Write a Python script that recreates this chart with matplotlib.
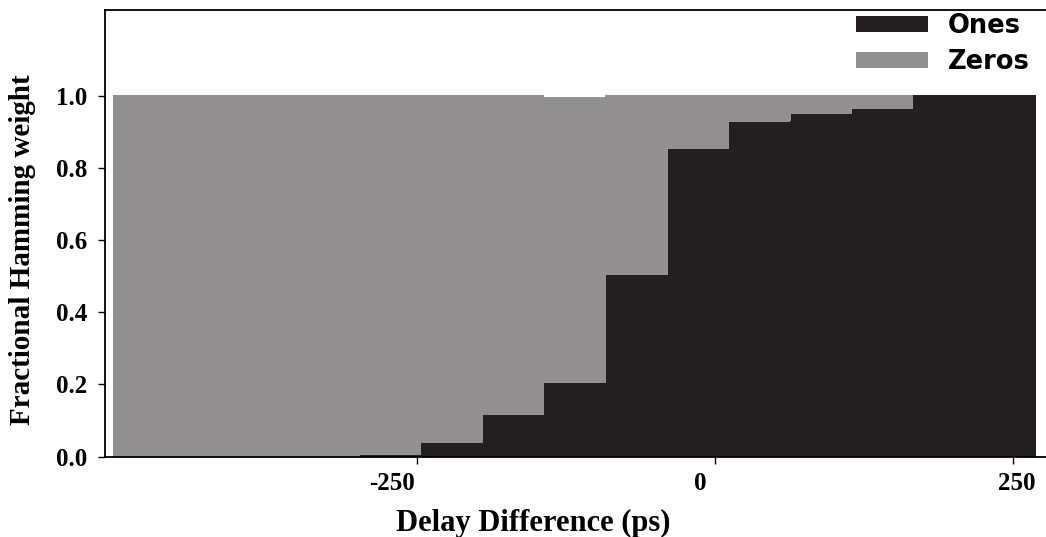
import matplotlib.pyplot as plt
from matplotlib.transforms import ScaledTranslation

# delay difference at bar centres (ps) and fractional hamming weight per bar
delay = [-479, -428, -376, -324, -273, -221, -170, -118, -66, -15, 37, 89, 140, 192, 243]
ones = [0.0, 0.0, 0.0, 0.0, 0.006, 0.040, 0.115, 0.204, 0.505, 0.852, 0.929, 0.951, 0.963, 1.0, 1.0]
zeros = [1.0, 1.0, 1.0, 1.0, 0.994, 0.960, 0.885, 0.790, 0.495, 0.148, 0.071, 0.049, 0.037, 0.0, 0.0]
bar_width = 51.6

xticks = [-250, 0, 250]
xticklabels = ['-250', '0', '250']
yticks = [0.0, 0.2, 0.4, 0.6, 0.8, 1.0]

black = '#231f20'
gray = '#929091'

fig = plt.figure(figsize=(10.46, 5.37), dpi=100)
ax = fig.add_axes([105 / 1046, 1 - 456.5 / 537, 1 - 105 / 1046, (456.5 - 10) / 537])

# no antialiasing, so no seams show between neighbouring bars
b1 = ax.bar(delay, ones, width=bar_width + 0.3, color=black, linewidth=0, snap=False,
            antialiased=False, label='Ones')
b2 = ax.bar(delay, zeros, width=bar_width + 0.3, bottom=ones, color=gray, linewidth=0, snap=False,
            antialiased=False, label='Zeros')

ax.set_xlim(-511.7, 277.7)
ax.set_ylim(0, 1.237)

ax.spines['right'].set_visible(False)
for s in ['left', 'top', 'bottom']:
    ax.spines[s].set_linewidth(1.3)
    ax.spines[s].set_color('black')

ax.set_xticks(xticks)
ax.set_xticklabels(xticklabels)
ax.set_yticks(yticks)
ax.set_yticklabels(['%.1f' % v for v in yticks])
ax.tick_params(axis='both', direction='out', length=5, width=1, colors='black')
ax.tick_params(axis='y', pad=8)
ax.tick_params(axis='x', pad=6)
for lab in ax.get_xticklabels() + ax.get_yticklabels():
    lab.set_fontfamily('Liberation Serif')
    lab.set_fontweight('bold')
    lab.set_fontsize(18)

# the labels in the original sit a little off their tick marks
for lab, dx in zip(ax.get_xticklabels(), [-25, -15, 4]):
    lab.set_transform(lab.get_transform() + ScaledTranslation(dx / 100, 0, fig.dpi_scale_trans))

fig.text(533 / 1046, 5.5 / 537, 'Delay Difference (ps)', ha='center', va='baseline',
         fontfamily='Liberation Serif', fontweight='bold', fontsize=22)
fig.text(23 / 1046, 1 - 250 / 537, 'Fractional Hamming weight', ha='center', va='center',
         rotation=90, fontfamily='Liberation Serif', fontweight='bold', fontsize=21)

leg = ax.legend(handles=[b1, b2], loc='upper right',
                bbox_to_anchor=(1030 / 1046, 1 - 13 / 537), bbox_transform=fig.transFigure,
                frameon=False, borderpad=0, borderaxespad=0,
                handlelength=2.8, handleheight=0.56, handletextpad=0.8, labelspacing=0.38,
                prop={'family': 'DejaVu Sans', 'weight': 'bold', 'size': 18.5})

fig.savefig('out.png', dpi=100)
